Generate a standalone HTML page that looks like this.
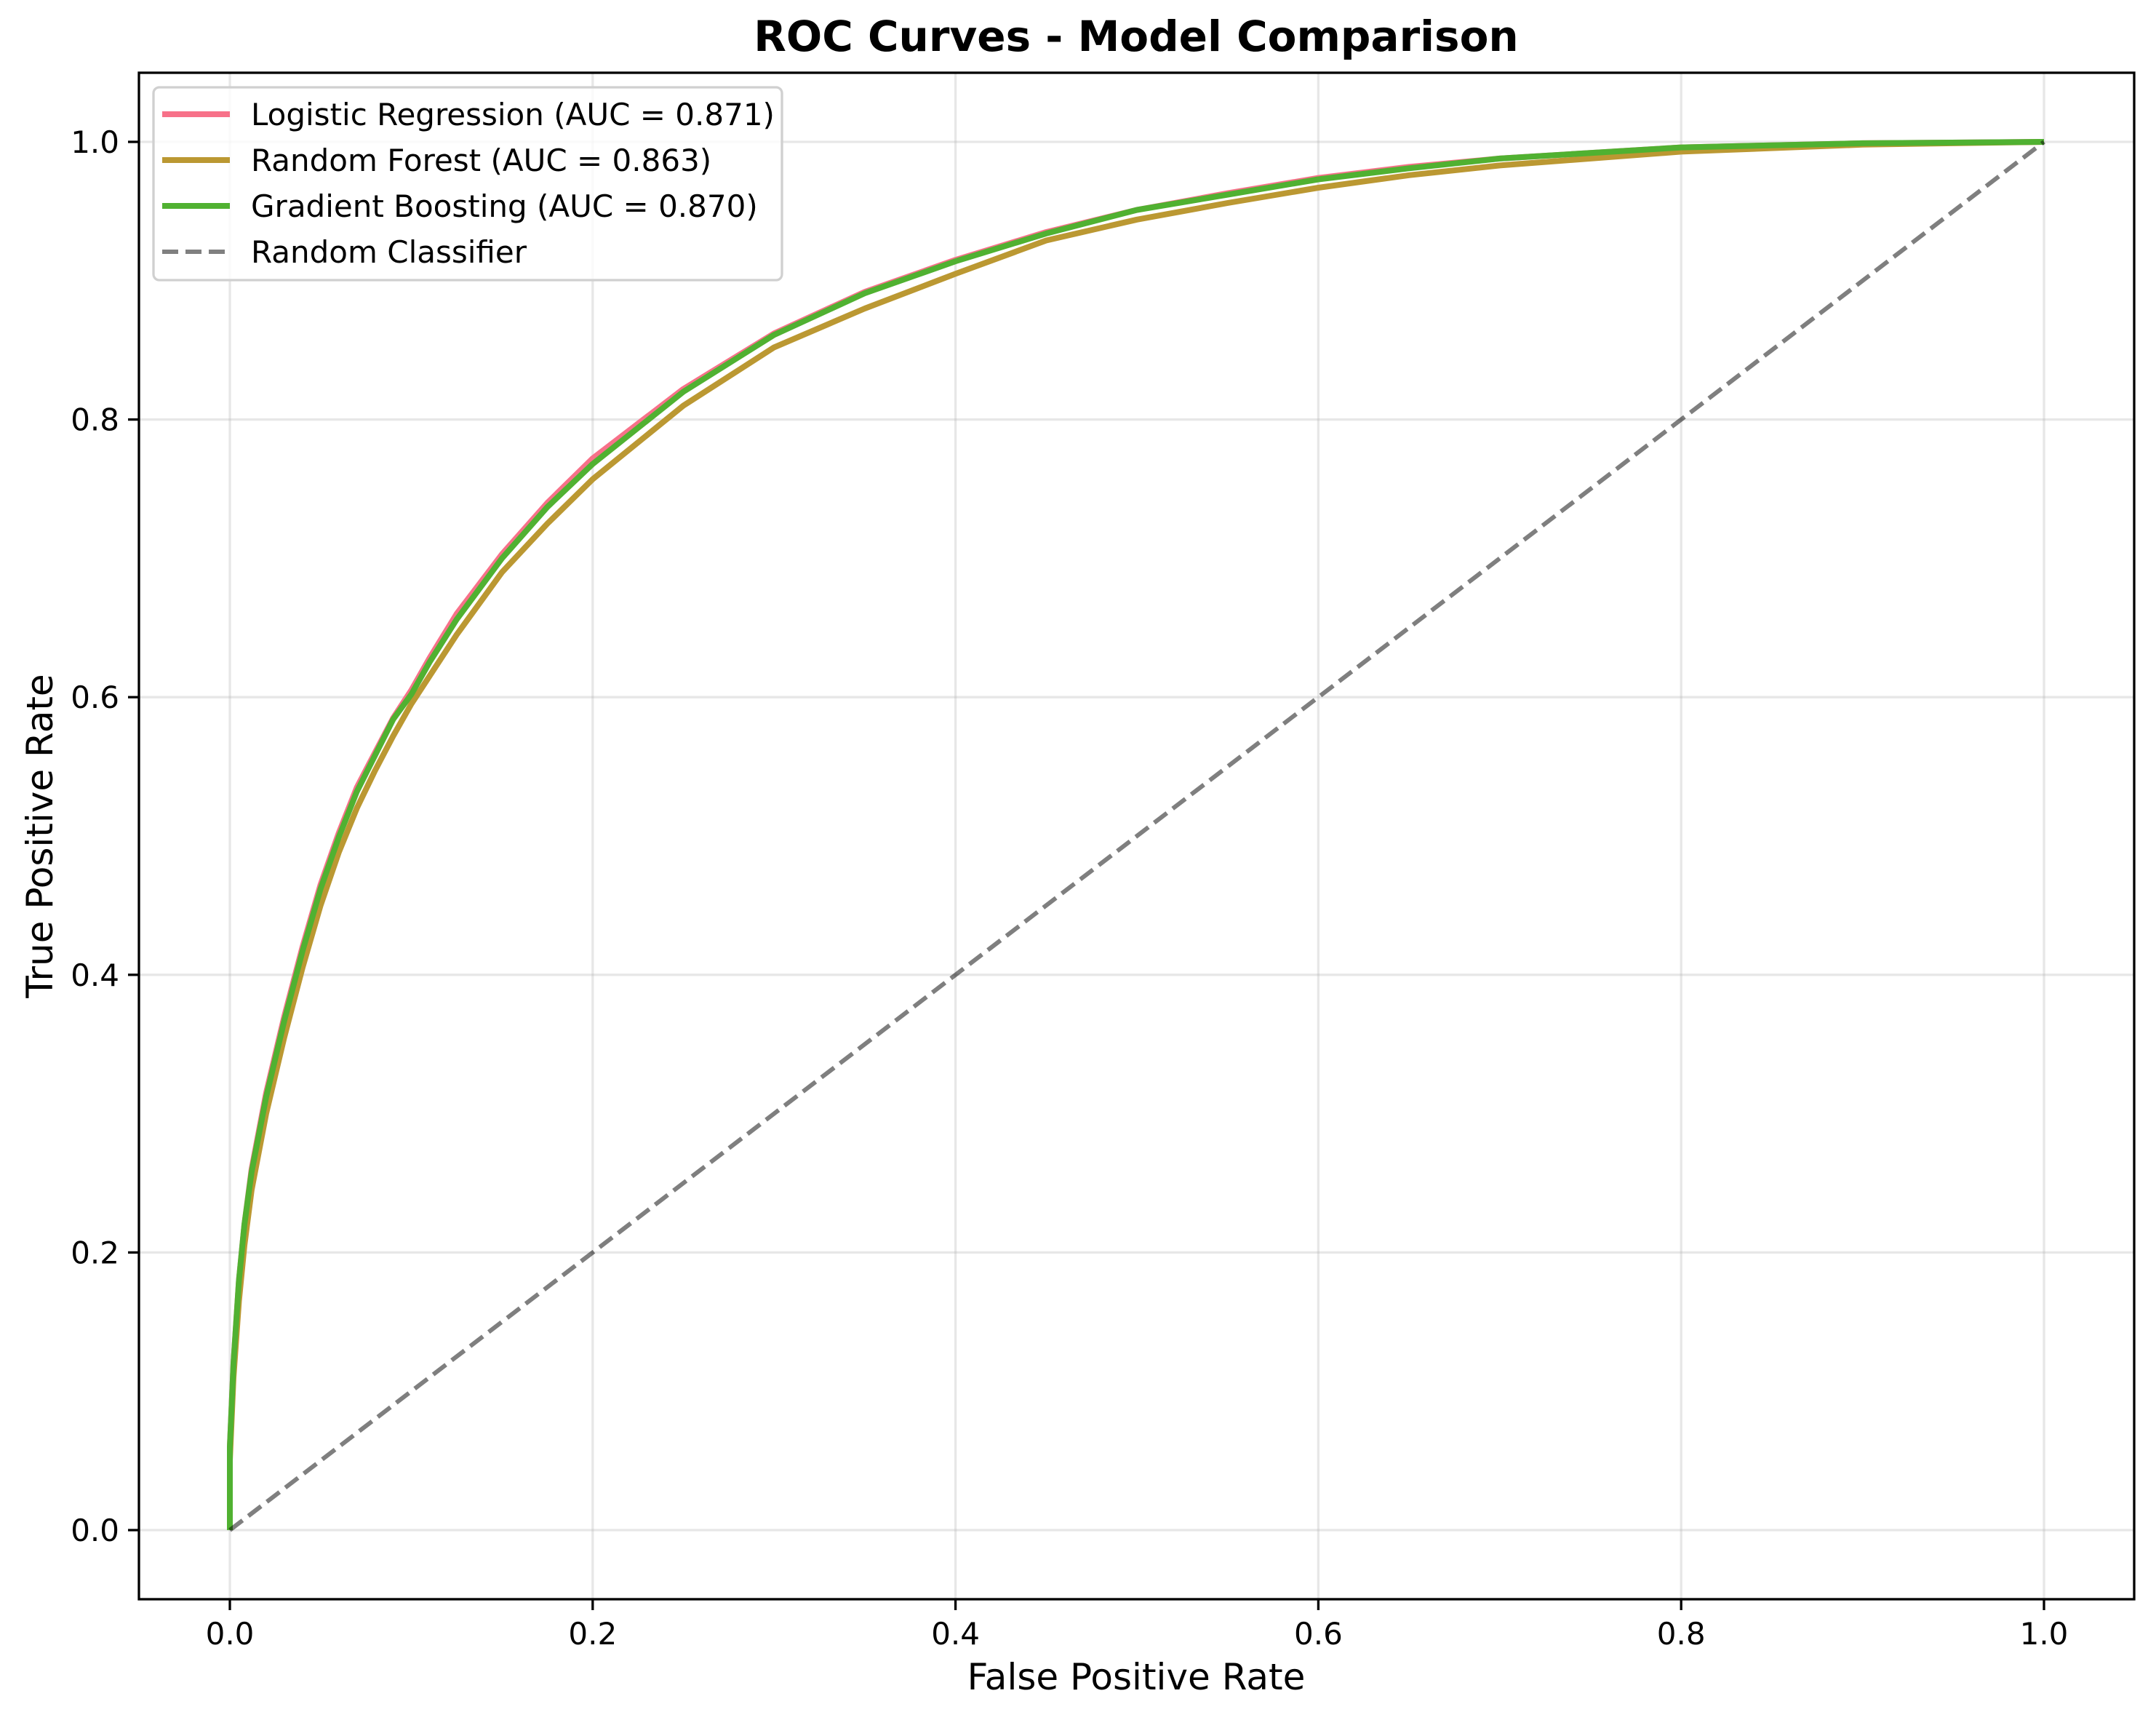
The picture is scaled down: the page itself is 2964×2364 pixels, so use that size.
<!DOCTYPE html>
<html><head><meta charset="utf-8"><style>
html,body{margin:0;padding:0;background:#fff;}
svg{display:block;font-family:"DejaVu Sans","Liberation Sans",sans-serif;}
</style></head><body>
<svg id="chart" width="2964" height="2364" viewBox="0 0 2964 2364" xmlns="http://www.w3.org/2000/svg">
<rect width="2964" height="2364" fill="#fff"/>
<g id="grid"></g>
<g id="series"></g>
<rect x="191" y="100" width="2743" height="2098" fill="none" stroke="#000" stroke-width="3.3"/>
<g id="ticks"></g>
<text x="1562" y="70" font-size="58" font-weight="bold" text-anchor="middle">ROC Curves - Model Comparison</text>
<text x="1562" y="2322" font-size="50" text-anchor="middle">False Positive Rate</text>
<text x="0" y="0" font-size="50" text-anchor="middle" transform="translate(72,1149) rotate(-90)">True Positive Rate</text>
<g id="legend">
<rect x="211" y="120" width="864" height="265" rx="8" fill="#fff" fill-opacity="0.8" stroke="#d0d0d0" stroke-width="3.3"/>
</g>
</svg>
<script>
const categories = ["Logistic Regression (AUC = 0.871)","Random Forest (AUC = 0.863)","Gradient Boosting (AUC = 0.870)"];
const colors = ["#f77189","#bb9832","#50b131"];
const fprLR = [0,0,0.002,0.005,0.008,0.012,0.02,0.03,0.04,0.05,0.06,0.07,0.08,0.09,0.1,0.11,0.125,0.15,0.175,0.2,0.25,0.3,0.35,0.4,0.45,0.5,0.55,0.6,0.65,0.7,0.8,0.9,1];
const tprLR = [0,0.06,0.12,0.18,0.22,0.26,0.315,0.37,0.42,0.465,0.502,0.535,0.56,0.585,0.605,0.628,0.66,0.703,0.74,0.772,0.822,0.862,0.892,0.915,0.935,0.951,0.963,0.974,0.982,0.988,0.996,0.999,1];
const fprRF = [0,0,0.002,0.005,0.008,0.012,0.02,0.03,0.04,0.05,0.06,0.07,0.08,0.09,0.1,0.11,0.125,0.15,0.175,0.2,0.25,0.3,0.35,0.4,0.45,0.5,0.55,0.6,0.65,0.7,0.8,0.9,1];
const tprRF = [0,0.05,0.11,0.165,0.205,0.245,0.3,0.355,0.405,0.45,0.488,0.52,0.547,0.572,0.595,0.615,0.645,0.69,0.725,0.757,0.81,0.852,0.88,0.905,0.929,0.944,0.956,0.967,0.976,0.983,0.993,0.998,1];
const fprGB = [0,0,0.002,0.005,0.008,0.012,0.02,0.03,0.04,0.05,0.06,0.07,0.08,0.09,0.1,0.11,0.125,0.15,0.175,0.2,0.25,0.3,0.35,0.4,0.45,0.5,0.55,0.6,0.65,0.7,0.8,0.9,1];
const tprGB = [0,0.06,0.12,0.18,0.22,0.258,0.312,0.367,0.417,0.462,0.499,0.532,0.558,0.584,0.602,0.625,0.656,0.7,0.737,0.768,0.82,0.861,0.891,0.914,0.934,0.951,0.962,0.973,0.981,0.988,0.996,0.999,1];
const fprRand = [0,1];
const tprRand = [0,1];
const xTicks = [0,0.2,0.4,0.6,0.8,1.0];
const yTicks = [0,0.2,0.4,0.6,0.8,1.0];
const xTickLabels = ["0.0","0.2","0.4","0.6","0.8","1.0"];
const yTickLabels = ["0.0","0.2","0.4","0.6","0.8","1.0"];

const NS="http://www.w3.org/2000/svg";
function sx(v){return 316+v*2494;}
function sy(v){return 2103-v*1908;}
function mk(tag,attrs,parent){const e=document.createElementNS(NS,tag);for(const k in attrs)e.setAttribute(k,attrs[k]);parent.appendChild(e);return e;}
const grid=document.getElementById('grid'),ticks=document.getElementById('ticks'),series=document.getElementById('series'),legend=document.getElementById('legend');
xTicks.forEach((v,i)=>{
  const g=mk('line',{x1:sx(v),x2:sx(v),y1:100,y2:2198,stroke:'#b0b0b0','stroke-opacity':0.3,'stroke-width':3.3},grid);
  
  
  const t=mk('line',{x1:sx(v),x2:sx(v),y1:2198,y2:2213,stroke:'#000','stroke-width':3.3},ticks);
  
  
  const l=mk('text',{x:sx(v),y:2260,'font-size':42,'text-anchor':'middle'},ticks);
  l.textContent=xTickLabels[i];
  
  
});
yTicks.forEach((v,i)=>{
  const g=mk('line',{x1:191,x2:2934,y1:sy(v),y2:sy(v),stroke:'#b0b0b0','stroke-opacity':0.3,'stroke-width':3.3},grid);
  
  
  const t=mk('line',{x1:176,x2:191,y1:sy(v),y2:sy(v),stroke:'#000','stroke-width':3.3},ticks);
  
  
  const l=mk('text',{x:164,y:sy(v)+15,'font-size':42,'text-anchor':'end'},ticks);
  l.textContent=yTickLabels[i];
  
  
});
function pts(xs,ys){return xs.map((x,i)=>sx(x).toFixed(1)+','+sy(ys[i]).toFixed(1)).join(' ');}
const sets=[[fprLR,tprLR],[fprRF,tprRF],[fprGB,tprGB]];
const names=['line-logistic-regression','line-random-forest','line-gradient-boosting'];
sets.forEach((s,i)=>{
  const p=mk('polyline',{points:pts(s[0],s[1]),fill:'none',stroke:colors[i],'stroke-width':8,'stroke-linejoin':'round','stroke-linecap':'butt'},series);
  
  
});
const rd=mk('polyline',{points:pts(fprRand,tprRand),fill:'none',stroke:'#000','stroke-opacity':0.5,'stroke-width':6,'stroke-dasharray':'22 10'},series);


const legLabels=categories.concat(['Random Classifier']);
legLabels.forEach((lab,i)=>{
  const y=157+i*63;
  const ln=mk('line',{x1:223,x2:316,y1:y,y2:y,stroke:i<3?colors[i]:'#808080','stroke-width':i<3?8:6},legend);
  if(i==3) ln.setAttribute('stroke-dasharray','22 10');
  
  
  const t=mk('text',{x:345,y:y+15,'font-size':42},legend);
  t.textContent=lab;
  
  
});
</script>
</body></html>
